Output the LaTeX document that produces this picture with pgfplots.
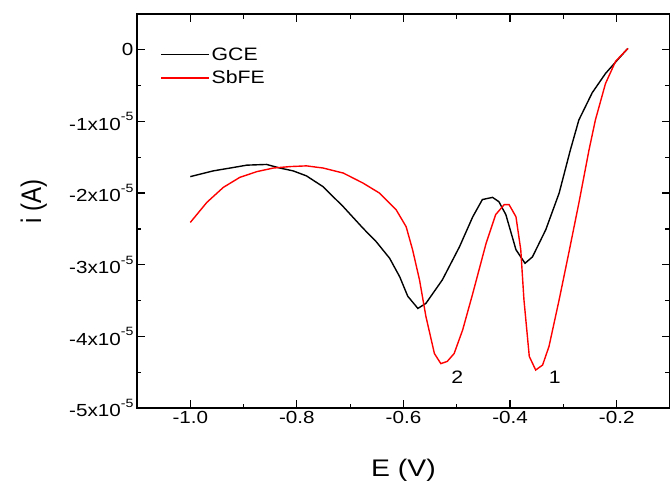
\documentclass[border=0pt]{standalone}
\usepackage{fontspec}
\setmainfont{Liberation Sans}
\usepackage{graphicx}
\usepackage{pgfplots}
\pgfplotsset{compat=1.18}

% the reference's lettering is a little wider than Arial
\newcommand{\W}[1]{\scalebox{1.18}[1]{#1}}
\newcommand{\E}[1]{\W{-#1x10\raisebox{9.5pt}{\fontsize{12}{12}\selectfont -5}}}

\begin{document}
\begin{tikzpicture}
    % crop like the reference (axis box: 533pt x 394pt at the origin)
    \path[use as bounding box] (-137pt,-72pt) rectangle (533pt,408pt);
    \begin{axis}[
        at = {(0pt,0pt)}, anchor = south west,
        % size
        scale only axis,
        width  = 533pt,
        height = 394pt,
        xmin = -1.1, xmax = -0.1,
        ymin = -5,   ymax = 0.5,
        % ticks
        xtick = {-1,-0.8,-0.6,-0.4,-0.2},
        xticklabels = {\W{-1.0},\W{-0.8},\W{-0.6},\W{-0.4},\W{-0.2}},
        ytick = {-5,-4,-3,-2,-1,0},
        yticklabels = {\E{5},\E{4},\E{3},\E{2},\E{1},\W{0}},
        minor x tick num = 1,
        minor y tick num = 1,
        tick pos       = both,
        xticklabel pos = left,
        yticklabel pos = left,
        tick align     = inside,
        major tick length = 8pt,
        minor tick length = 4.5pt,
        tick style = {black, line width = 1.2pt},
        axis line style = {line width = 1.3pt},
        ticklabel style = {font = \fontsize{17.5}{20}\selectfont},
        % labels
        xlabel = {\W{E (V)}},
        ylabel = {\scalebox{1}[1.18]{i (A)}},
        label style = {font = \fontsize{24}{28}\selectfont},
        xlabel style = {at = {(axis description cs:0.5,-0.1726)}, anchor = base},
        ylabel style = {at = {(axis description cs:-0.1800,0.525)}, anchor = base},
        % legend
        legend style = {
            at = {(0.038,0.925)}, anchor = north west,
            draw = none, fill = none,
            font = \fontsize{18}{20}\selectfont,
            row sep = 5pt,
        },
        legend cell align = left,
        legend image post style = {xscale = 2.8},
    ]

        % GCE
        \addplot[black, line width = 1.4pt] coordinates {
            (-1.000,-1.77) (-0.957,-1.69) (-0.925,-1.65) (-0.894,-1.61)
            (-0.857,-1.60) (-0.832,-1.65) (-0.807,-1.69) (-0.782,-1.76)
            (-0.751,-1.91) (-0.713,-2.19) (-0.676,-2.49) (-0.651,-2.68)
            (-0.626,-2.91) (-0.607,-3.17) (-0.592,-3.44) (-0.573,-3.61)
            (-0.558,-3.54) (-0.527,-3.21) (-0.495,-2.75) (-0.470,-2.33)
            (-0.452,-2.09) (-0.433,-2.06) (-0.421,-2.12) (-0.408,-2.30)
            (-0.389,-2.79) (-0.372,-2.98) (-0.358,-2.89) (-0.333,-2.51)
            (-0.308,-2.00) (-0.287,-1.40) (-0.271,-0.98) (-0.246,-0.60)
            (-0.221,-0.33) (-0.196,-0.12) (-0.179,0.02)
        };
        \addlegendentry{\W{GCE}}

        % SbFE
        \addplot[red, line width = 1.4pt] coordinates {
            (-1.000,-2.41) (-0.969,-2.13) (-0.938,-1.92) (-0.907,-1.78)
            (-0.875,-1.70) (-0.844,-1.65) (-0.813,-1.63) (-0.782,-1.62)
            (-0.751,-1.65) (-0.713,-1.72) (-0.676,-1.86) (-0.645,-2.00)
            (-0.614,-2.23) (-0.595,-2.47) (-0.583,-2.79) (-0.570,-3.21)
            (-0.558,-3.72) (-0.542,-4.24) (-0.530,-4.38) (-0.518,-4.35)
            (-0.505,-4.24) (-0.489,-3.91) (-0.470,-3.40) (-0.445,-2.70)
            (-0.427,-2.30) (-0.411,-2.16) (-0.402,-2.16) (-0.389,-2.33)
            (-0.380,-2.79) (-0.374,-3.49) (-0.364,-4.28) (-0.352,-4.47)
            (-0.339,-4.40) (-0.327,-4.14) (-0.308,-3.49) (-0.290,-2.84)
            (-0.271,-2.14) (-0.252,-1.40) (-0.240,-0.98) (-0.221,-0.47)
            (-0.202,-0.16) (-0.179,0.02)
        };
        \addlegendentry{\W{SbFE}}

        % peak labels
        \node[font = \fontsize{18}{20}\selectfont] at (axis cs:-0.499,-4.57) {\W{2}};
        \node[font = \fontsize{18}{20}\selectfont] at (axis cs:-0.316,-4.57) {\W{1}};
    \end{axis}
\end{tikzpicture}
\end{document}
